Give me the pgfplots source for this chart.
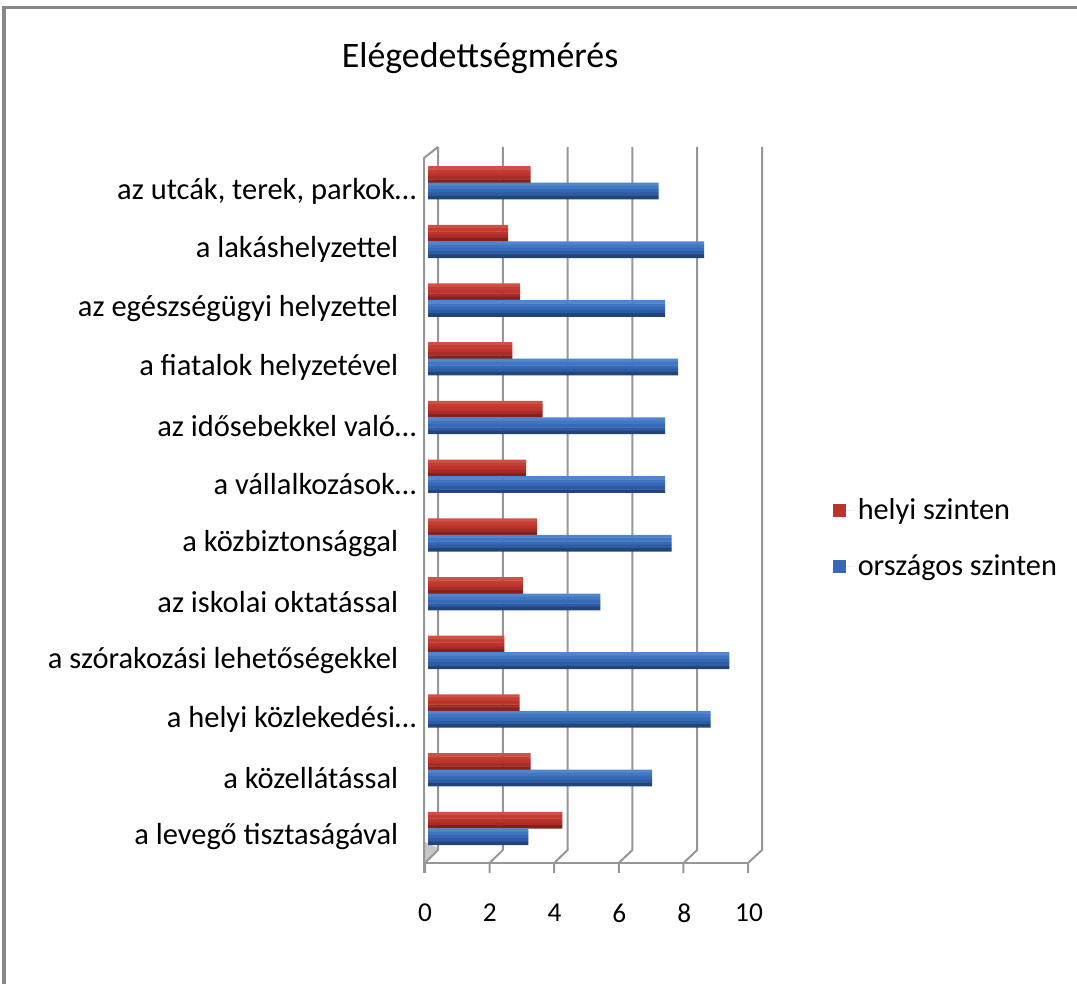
\documentclass[border=0pt]{standalone}
\usepackage{pgfplots}
\usepackage{pgfplotstable}
\pgfplotsset{compat=1.18}
\usepackage{fontspec}
\setmainfont{Carlito}
\definecolor{redA}{RGB}{206,80,70}
\definecolor{redB}{RGB}{196,60,52}
\definecolor{redC}{RGB}{188,52,45}
\definecolor{redD}{RGB}{170,44,38}
\definecolor{redE}{RGB}{134,32,27}
\definecolor{blueA}{RGB}{80,134,205}
\definecolor{blueB}{RGB}{64,118,194}
\definecolor{blueC}{RGB}{54,106,182}
\definecolor{blueD}{RGB}{46,92,162}
\definecolor{blueE}{RGB}{34,68,122}
\definecolor{gridgray}{RGB}{150,150,150}
\definecolor{framegray}{RGB}{135,135,135}
\pgfplotstableread{
y helyi orszagos
0 4.15 3.10
1 3.17 6.92
2 2.83 8.72
3 2.36 9.30
4 2.93 5.32
5 3.37 7.52
6 3.03 7.32
7 3.54 7.32
8 2.60 7.72
9 2.84 7.32
10 2.47 8.52
11 3.17 7.12
}\datatable
\begin{document}
\begin{tikzpicture}
\begin{scope}[yshift=492bp,x=0.5bp,y=-0.5bp]
  \path[use as bounding box] (0,0) rectangle (1077,984);
  \draw[framegray,line width=1.5bp] (4,984) -- (4,8) -- (1077,8);
  \node[font=\fontsize{18}{21}\selectfont] at (480,58) {Elégedettségmérés};
  % 3D frame decorations
  \fill[gray!45] (425,842) -- (438,848) -- (438,851) -- (425,862) -- cycle;
  \foreach \v in {0,2,4,6,8,10}{
    \draw[gridgray,line width=1bp] ({438+32.4*\v},147) -- ({438+32.4*\v},850) -- ({425+32.3*\v},863) -- ({425+32.3*\v},873);
  }
  \draw[gridgray,line width=1bp] (425,863) -- (748,863);
  \draw[gridgray,line width=1bp] (438,147) -- (424,158) -- (424,873);
\end{scope}
\begin{axis}[
  at={(214bp,59.5bp)}, anchor=south west,
  scale only axis, width=162bp, height=357.5bp,
  xmin=0, xmax=10, ymin=-0.482, ymax=11.698,
  axis line style={draw=none}, tick style={draw=none},
  xtick={0,2,4,6,8,10},
  xticklabel style={anchor=center, yshift=-24bp, xshift=-1.5bp, font=\fontsize{13.7}{16}\selectfont},
  ytick={0,...,11},
  yticklabels={
    a levegő tisztaságával\kern9bp,
    a közellátással\kern9bp,
    a helyi közlekedési…,
    a szórakozási lehetőségekkel\kern9bp,
    az iskolai oktatással\kern9bp,
    a közbiztonsággal\kern9bp,
    a vállalkozások…,
    az idősebekkel való…,
    a fiatalok helyzetével\kern9bp,
    az egészségügyi helyzettel\kern9bp,
    a lakáshelyzettel\kern9bp,
    {az utcák, terek, parkok…}},
  yticklabel style={anchor=east, inner xsep=0pt, xshift=-1.5bp, font=\fontsize{15.3}{18}\selectfont},
  /pgf/number format/assume math mode=true,
  xbar, bar width=1.8bp,
  every axis plot/.append style={draw=none},
  legend style={at={(rel axis cs:1.248,0.524)}, anchor=north west, draw=none, fill=none,
    font=\fontsize{15.2}{18}\selectfont, row sep=12bp, inner xsep=0pt},
  legend cell align=left,
  legend image code/.code={\fill[#1] (0bp,-3.2bp) rectangle (6.4bp,3.2bp); \path (0bp,0bp) -- (10.5bp,0bp);},
]
% helyi szinten (red), centred 8.25bp above the category
\addplot[fill=redA, bar shift=11.55bp, forget plot] table[x=helyi,y=y]{\datatable};
\addplot[fill=redB, bar shift=9.9bp, forget plot] table[x=helyi,y=y]{\datatable};
\addplot[fill=redC, bar shift=8.25bp, forget plot] table[x=helyi,y=y]{\datatable};
\addplot[fill=redD, bar shift=6.6bp, forget plot] table[x=helyi,y=y]{\datatable};
\addplot[fill=redE, bar shift=4.95bp, forget plot] table[x=helyi,y=y]{\datatable};
% orszagos szinten (blue), centred on the category
\addplot[fill=blueA, bar shift=3.3bp, forget plot] table[x=orszagos,y=y]{\datatable};
\addplot[fill=blueB, bar shift=1.65bp, forget plot] table[x=orszagos,y=y]{\datatable};
\addplot[fill=blueC, bar shift=0bp, forget plot] table[x=orszagos,y=y]{\datatable};
\addplot[fill=blueD, bar shift=-1.65bp, forget plot] table[x=orszagos,y=y]{\datatable};
\addplot[fill=blueE, bar shift=-3.3bp, forget plot] table[x=orszagos,y=y]{\datatable};
\addlegendimage{fill=redC}
\addlegendentry{helyi szinten}
\addlegendimage{fill=blueC}
\addlegendentry{országos szinten}
\end{axis}
\end{tikzpicture}
\end{document}
